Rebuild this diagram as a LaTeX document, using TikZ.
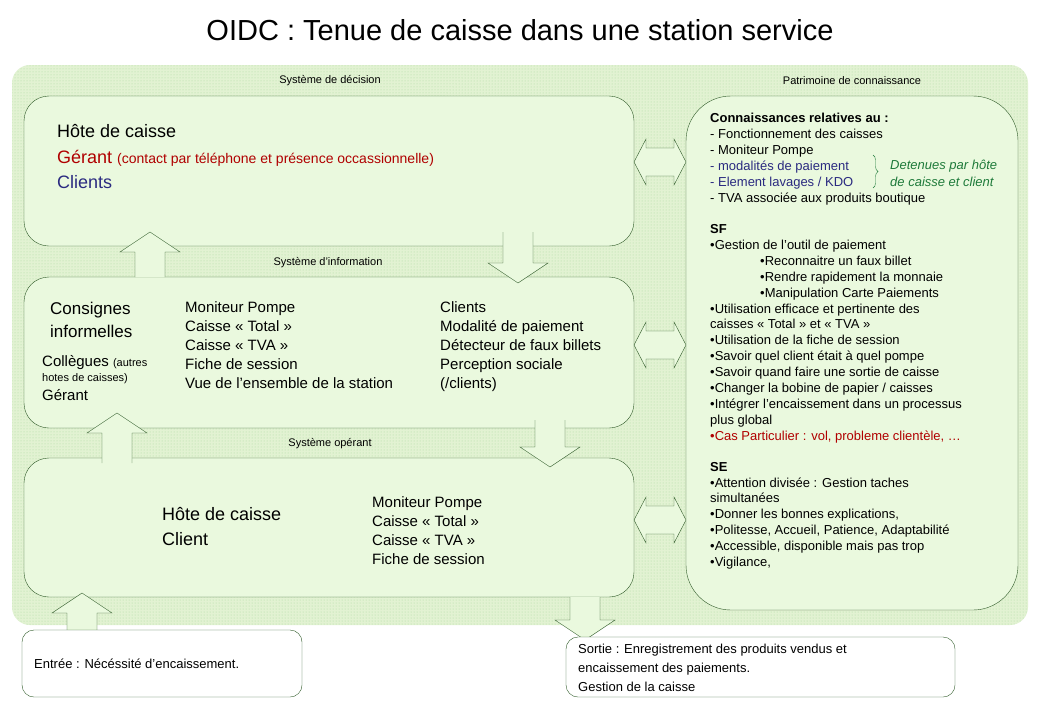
\documentclass[tikz,border=0pt]{standalone}
\usepackage{fontspec}
\setmainfont{Liberation Sans}
\usetikzlibrary{patterns,decorations.pathreplacing}
\definecolor{bgg}{HTML}{E2F2D2}
\definecolor{boxg}{HTML}{EAF9DE}
\definecolor{lineg}{HTML}{2F5A28}
\definecolor{dred}{HTML}{B00000}
\definecolor{dblue}{HTML}{2A2A80}
\definecolor{dgreen}{HTML}{1E7A3A}
\newcommand{\uparr}[3]{\fill[boxg] (#1-15,#3)--(#1-15,#2+20)--(#1-30,#2+20)--(#1,#2)--(#1+30,#2+20)--(#1+15,#2+20)--(#1+15,#3)--cycle;
 \draw[lineg] (#1-15,#3)--(#1-15,#2+20)--(#1-30,#2+20)--(#1,#2)--(#1+30,#2+20)--(#1+15,#2+20)--(#1+15,#3);}
\newcommand{\dnarr}[3]{\fill[boxg] (#1-15,#3)--(#1-15,#2-20)--(#1-30,#2-20)--(#1,#2)--(#1+30,#2-20)--(#1+15,#2-20)--(#1+15,#3)--cycle;
 \draw[lineg] (#1-15,#3)--(#1-15,#2-20)--(#1-30,#2-20)--(#1,#2)--(#1+30,#2-20)--(#1+15,#2-20)--(#1+15,#3);}
\newcommand{\lrarr}[1]{\filldraw[lineg,fill=boxg] (634,#1)--(646,#1-23)--(646,#1-14)--(674,#1-14)--(674,#1-23)--(686,#1)--(674,#1+23)--(674,#1+14)--(646,#1+14)--(646,#1+23)--cycle;}
\begin{document}
\begin{tikzpicture}[x=1pt,y=-1pt,
 box/.style={draw=lineg,fill=boxg,rounded corners=25pt},
 lab/.style={font=\fontsize{11}{12}\selectfont},
 t/.style={anchor=base west,inner sep=0,font=\fontsize{15}{16}\selectfont},
 big/.style={anchor=base west,inner sep=0,font=\fontsize{18}{20}\selectfont},
 r/.style={anchor=base west,inner sep=0,font=\fontsize{13}{14}\selectfont}]
\useasboundingbox (0,0) rectangle (1040,720);
\fill[white] (0,0) rectangle (1040,720);
\node[font=\fontsize{29}{32}\selectfont] (title) at (520,30) {OIDC : Tenue de caisse dans une station service};
\fill[bgg,rounded corners=18pt] (12,65) rectangle (1028,625);
\fill[pattern=dots,pattern color=green!40!gray,opacity=0.35,rounded corners=18pt] (12,65) rectangle (1028,625);
\node[lab] at (330,81) {Système de décision};
\node[lab] at (852,81) {Patrimoine de connaissance};
\node[lab] at (328,263) {Système d'information};
\node[lab] at (330,444) {Système opérant};
\draw[box] (24,96) rectangle (634,246);
\draw[box] (24,277) rectangle (634,428);
\draw[box] (24,458) rectangle (634,597);
\draw[box,rounded corners=45pt] (686,96) rectangle (1018,610);
\uparr{150}{232}{277}
\dnarr{518}{283}{232}
\uparr{117}{413}{463}
\dnarr{550}{467}{420}
\uparr{82}{593}{632}
\dnarr{585}{640}{597}
\lrarr{162}\lrarr{345}\lrarr{520}
% decision
\node[big] at (57,137) {Hôte de caisse};
\node[big,text=dred] at (57,163) {Gérant {\fontsize{14}{15}\selectfont (contact par téléphone et présence occassionnelle)}};
\node[big,text=dblue] at (57,188) {Clients};
% info
\node[t,font=\fontsize{17}{18}\selectfont] at (50,314) {Consignes};
\node[t,font=\fontsize{17}{18}\selectfont] at (50,337) {informelles};
\node[t] at (42,366) {Collègues {\fontsize{11}{12}\selectfont (autres}};
\node[t,font=\fontsize{11}{12}\selectfont] at (42,381) {hotes de caisses)};
\node[t] at (42,400) {Gérant};
\foreach \s [count=\i] in {Moniteur Pompe,Caisse « Total »,Caisse « TVA »,Fiche de session,Vue de l’ensemble de la station}
  \node[t] at (185,293+19*\i) {\s};
\foreach \s [count=\i] in {Clients,Modalité de paiement,Détecteur de faux billets,Perception sociale,(/clients)}
  \node[t] at (440,293+19*\i) {\s};
% operant
\node[big] at (162,520) {Hôte de caisse};
\node[big] at (162,545) {Client};
\foreach \s [count=\i] in {Moniteur Pompe,Caisse « Total »,Caisse « TVA »,Fiche de session}
  \node[t] at (372,488+19*\i) {\s};
% right panel
\node[r,font=\bfseries\fontsize{13}{14}\selectfont] at (710,122) {Connaissances relatives au :};
\node[r] at (710,138) {- Fonctionnement des caisses};
\node[r] at (710,154) {- Moniteur Pompe};
\node[r,text=dblue] at (710,170) {- modalités de paiement};
\node[r,text=dblue] at (710,186) {- Element lavages / KDO};
\node[r] at (710,202) {- TVA associée aux produits boutique};
\draw[dgreen,decorate,decoration={brace,amplitude=5pt}] (873,155)--(873,188);
\node[r,text=dgreen,font=\itshape\fontsize{13}{14}\selectfont] at (890,169) {Detenues par hôte};
\node[r,text=dgreen,font=\itshape\fontsize{13}{14}\selectfont] at (890,186) {de caisse et client};
\node[r,font=\bfseries\fontsize{13}{14}\selectfont] at (710,233) {SF};
\node[r] at (710,249) {•Gestion de l’outil de paiement};
\node[r] at (760,265) {•Reconnaitre un faux billet};
\node[r] at (760,281) {•Rendre rapidement la monnaie};
\node[r] at (760,297) {•Manipulation Carte Paiements};
\node[r] at (710,313) {•Utilisation efficace et pertinente des};
\node[r] at (710,328) {caisses « Total » et « TVA »};
\node[r] at (710,344) {•Utilisation de la fiche de session};
\node[r] at (710,360) {•Savoir quel client était à quel pompe};
\node[r] at (710,376) {•Savoir quand faire une sortie de caisse};
\node[r] at (710,392) {•Changer la bobine de papier / caisses};
\node[r] at (710,408) {•Intégrer l’encaissement dans un processus};
\node[r] at (710,424) {plus global};
\node[r,text=dred] at (710,440) {•Cas Particulier : vol, probleme clientèle, …};
\node[r,font=\bfseries\fontsize{13}{14}\selectfont] at (710,471) {SE};
\node[r] at (710,487) {•Attention divisée : Gestion taches};
\node[r] at (710,502) {simultanées};
\node[r] at (710,518) {•Donner les bonnes explications,};
\node[r] at (710,534) {•Politesse, Accueil, Patience, Adaptabilité};
\node[r] at (710,550) {•Accessible, disponible  mais pas trop};
\node[r] at (710,566) {•Vigilance,};
% bottom
\draw[lineg,fill=white,rounded corners=12pt] (22,630) rectangle (302,697);
\node[r] (entree) at (34,668) {Entrée : Nécéssité d’encaissement.};
\draw[lineg,fill=white,rounded corners=12pt] (566,637) rectangle (955,697);
\node[r] at (578,653) {Sortie : Enregistrement des produits vendus et};
\node[r] at (578,672) {encaissement  des paiements.};
\node[r] at (578,691) {Gestion de la caisse};
\end{tikzpicture}
\end{document}
